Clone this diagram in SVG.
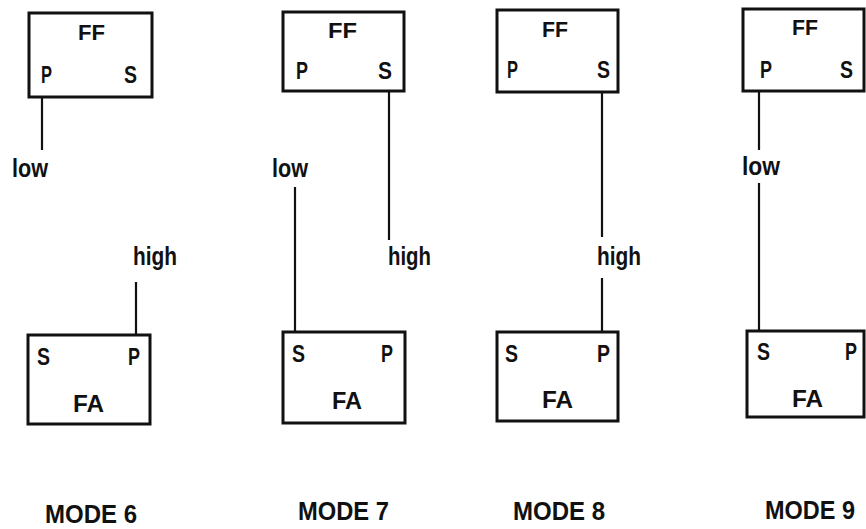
<svg xmlns="http://www.w3.org/2000/svg" width="866" height="529" viewBox="0 0 866 529">
<style>
.box{fill:#fff;stroke:#111;stroke-width:3}
.ln{stroke:#111;stroke-width:2.2;fill:none}
text{font-family:"Liberation Sans",Arial,sans-serif;font-weight:bold;fill:#111;font-size:24px}
.ff{font-size:22px}
.lbl{font-size:25px}
.mode{font-size:25px}
</style>
<rect width="866" height="529" fill="#fff"/>
<!-- MODE 6 -->
<g id="ff6">
<rect class="box" x="29" y="13" width="123" height="84"/>
<text class="ff" x="78" y="40" textLength="27" lengthAdjust="spacingAndGlyphs">FF</text>
<text x="41" y="83" textLength="11" lengthAdjust="spacingAndGlyphs">P</text>
<text x="124" y="83" textLength="13" lengthAdjust="spacingAndGlyphs">S</text>
</g>
<g id="fa6">
<rect class="box" x="28" y="335" width="122" height="89"/>
<text x="37" y="365" textLength="13" lengthAdjust="spacingAndGlyphs">S</text>
<text x="128" y="365" textLength="12" lengthAdjust="spacingAndGlyphs">P</text>
<text x="73" y="412" textLength="31" lengthAdjust="spacingAndGlyphs">FA</text>
</g>
<!-- MODE 7 -->
<g id="ff7">
<rect class="box" x="283" y="12" width="121" height="79"/>
<text class="ff" x="328" y="38" textLength="29" lengthAdjust="spacingAndGlyphs">FF</text>
<text x="296" y="79" textLength="12" lengthAdjust="spacingAndGlyphs">P</text>
<text x="378" y="79" textLength="14" lengthAdjust="spacingAndGlyphs">S</text>
</g>
<g id="fa7">
<rect class="box" x="283" y="332" width="122" height="91"/>
<text x="292" y="362" textLength="13" lengthAdjust="spacingAndGlyphs">S</text>
<text x="381" y="362" textLength="12" lengthAdjust="spacingAndGlyphs">P</text>
<text x="332" y="409" textLength="30" lengthAdjust="spacingAndGlyphs">FA</text>
</g>
<!-- MODE 8 -->
<g id="ff8">
<rect class="box" x="497" y="10" width="121" height="82"/>
<text class="ff" x="542" y="37" textLength="26" lengthAdjust="spacingAndGlyphs">FF</text>
<text x="507" y="78" textLength="11" lengthAdjust="spacingAndGlyphs">P</text>
<text x="597" y="78" textLength="13" lengthAdjust="spacingAndGlyphs">S</text>
</g>
<g id="fa8">
<rect class="box" x="497" y="332" width="121" height="89"/>
<text x="505" y="362" textLength="13" lengthAdjust="spacingAndGlyphs">S</text>
<text x="597" y="362" textLength="13" lengthAdjust="spacingAndGlyphs">P</text>
<text x="542" y="408" textLength="31" lengthAdjust="spacingAndGlyphs">FA</text>
</g>
<!-- MODE 9 -->
<g id="ff9">
<rect class="box" x="743" y="9" width="121" height="82"/>
<text class="ff" x="792" y="35" textLength="26" lengthAdjust="spacingAndGlyphs">FF</text>
<text x="760" y="78" textLength="12" lengthAdjust="spacingAndGlyphs">P</text>
<text x="840" y="78" textLength="13" lengthAdjust="spacingAndGlyphs">S</text>
</g>
<g id="fa9">
<rect class="box" x="747" y="331" width="117" height="86"/>
<text x="757" y="360" textLength="13" lengthAdjust="spacingAndGlyphs">S</text>
<text x="845" y="360" textLength="12" lengthAdjust="spacingAndGlyphs">P</text>
<text x="792" y="407" textLength="31" lengthAdjust="spacingAndGlyphs">FA</text>
</g>
<g id="connectors">
<line class="ln" x1="42" y1="97" x2="42" y2="150"/>
<line class="ln" x1="136" y1="282" x2="136" y2="335"/>
<line class="ln" x1="389" y1="91" x2="389" y2="240"/>
<line class="ln" x1="295" y1="187" x2="295" y2="332"/>
<line class="ln" x1="602" y1="92" x2="602" y2="237"/>
<line class="ln" x1="602" y1="278" x2="602" y2="332"/>
<line class="ln" x1="759" y1="91" x2="759" y2="150"/>
<line class="ln" x1="759" y1="183" x2="759" y2="331"/>
</g>
<g id="labels">
<text class="lbl" x="12" y="177" textLength="36" lengthAdjust="spacingAndGlyphs">low</text>
<text class="lbl" x="133" y="265" textLength="44" lengthAdjust="spacingAndGlyphs">high</text>
<text class="lbl" x="272" y="177" textLength="36" lengthAdjust="spacingAndGlyphs">low</text>
<text class="lbl" x="388" y="265" textLength="43" lengthAdjust="spacingAndGlyphs">high</text>
<text class="lbl" x="597" y="265" textLength="44" lengthAdjust="spacingAndGlyphs">high</text>
<text class="lbl" x="742" y="175" textLength="38" lengthAdjust="spacingAndGlyphs">low</text>
</g>
<g id="titles">
<text class="mode" x="45" y="523" textLength="92" lengthAdjust="spacingAndGlyphs">MODE 6</text>
<text class="mode" x="298" y="520" textLength="91" lengthAdjust="spacingAndGlyphs">MODE 7</text>
<text class="mode" x="513" y="520" textLength="92" lengthAdjust="spacingAndGlyphs">MODE 8</text>
<text class="mode" x="765" y="519" textLength="90" lengthAdjust="spacingAndGlyphs">MODE 9</text>
</g>
</svg>
